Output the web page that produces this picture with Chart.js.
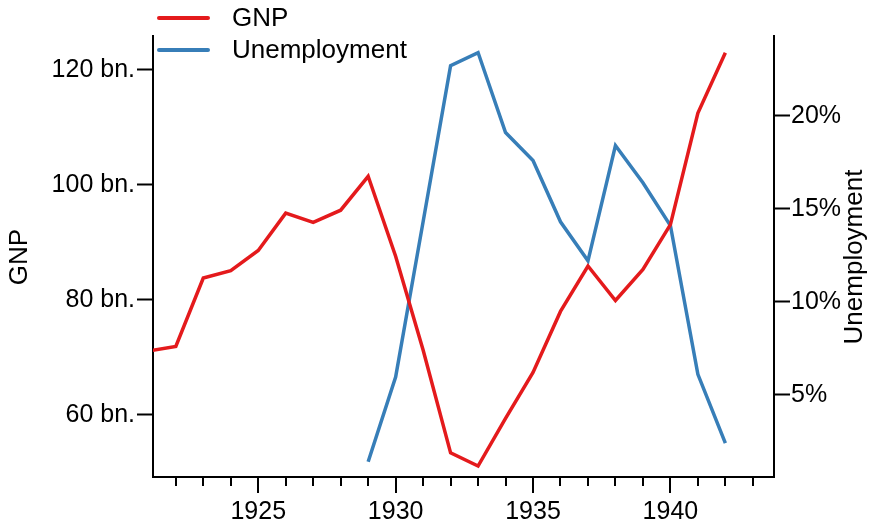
<!DOCTYPE html>
<html>
<head>
<meta charset="utf-8">
<script src="https://cdn.jsdelivr.net/npm/chart.js@4.4.1/dist/chart.umd.min.js"></script>
<style>
  body { margin: 0; background: #fff; }
  #wrap { width: 872px; height: 521px; position: relative; }
</style>
</head>
<body>
<div id="wrap"><canvas id="grafico"></canvas></div>
<script>
// valores
const years = [1921, 1922, 1923, 1924, 1925, 1926, 1927, 1928, 1929, 1930, 1931,
               1932, 1933, 1934, 1935, 1936, 1937, 1938, 1939, 1940, 1941, 1942];
const gnp = [71.1, 71.9, 83.8, 85.1, 88.6, 95.1, 93.5, 95.6, 101.5, 87.6, 71.3,
             53.4, 51.1, 59.4, 67.4, 78.0, 85.9, 79.9, 85.3, 93.1, 112.5, 123.0];
const unemployment = [null, null, null, null, null, null, null, null, 1.4, 5.95, 14.3,
                      22.7, 23.4, 19.1, 17.6, 14.3, 12.2, 18.4, 16.4, 14.1, 6.1, 2.4];
const yearTicks = [1922, 1923, 1924, 1925, 1926, 1927, 1928, 1929, 1930, 1931, 1932,
                   1933, 1934, 1935, 1936, 1937, 1938, 1939, 1940, 1941, 1942, 1943];
const gnpTicks = [60, 80, 100, 120];
const unempTicks = [5, 10, 15, 20];

const FONT = 'Liberation Sans, Arial, Helvetica, sans-serif';
const RED = '#E41A1C';
const BLUE = '#377EB8';

// ticks del eje x (mayores cada 5 años), titulos y leyenda
const extras = {
    id: 'extras',
    afterDraw(chart) {
        const c = chart.ctx;
        const x = chart.scales.x;
        const area = chart.chartArea;
        c.save();
        c.strokeStyle = '#000';
        c.lineWidth = 2;
        x.ticks.forEach(t => {
            const px = Math.round(x.getPixelForValue(t.value));
            const len = t.value % 5 === 0 ? 16 : 9;
            c.beginPath();
            c.moveTo(px, area.bottom);
            c.lineTo(px, area.bottom + len);
            c.stroke();
        });
        c.fillStyle = '#000';
        c.font = '26px ' + FONT;
        c.textAlign = 'center';
        c.textBaseline = 'middle';
        c.save();
        c.translate(20, 257);
        c.rotate(-Math.PI / 2);
        c.fillText('GNP', 0, 0);
        c.restore();
        c.save();
        c.translate(855, 257);
        c.rotate(-Math.PI / 2);
        c.fillText('Unemployment', 0, 0);
        c.restore();
        // leyenda
        c.textAlign = 'left';
        chart.data.datasets.forEach((ds, i) => {
            const y = 18 + i * 32;
            c.strokeStyle = ds.borderColor;
            c.lineWidth = 4;
            c.lineCap = 'round';
            c.beginPath();
            c.moveTo(159, y);
            c.lineTo(208, y);
            c.stroke();
            c.fillText(ds.label, 232, y + 1);
        });
        c.restore();
    }
};

const ctx = document.getElementById('grafico').getContext('2d');
new Chart(ctx, {
    type: 'line',
    data: {
        datasets: [
            {
                label: 'GNP',
                data: years.map((y, i) => ({x: y, y: gnp[i]})),
                borderColor: RED,
                borderWidth: 3.5,
                pointRadius: 0,
                tension: 0,
                yAxisID: 'yGnp'
            },
            {
                label: 'Unemployment',
                data: years.map((y, i) => ({x: y, y: unemployment[i]})),
                borderColor: BLUE,
                borderWidth: 3.5,
                pointRadius: 0,
                tension: 0,
                yAxisID: 'yUnemp'
            }
        ]
    },
    options: {
        responsive: true,
        maintainAspectRatio: false,
        animation: false,
        layout: { padding: { top: 36, left: 0, right: 0, bottom: 0 } },
        plugins: {
            legend: { display: false },
            tooltip: { enabled: false }
        },
        scales: {
            x: {
                type: 'linear',
                min: 1921.17,
                max: 1943.77,
                afterBuildTicks: s => { s.ticks = yearTicks.map(v => ({value: v})); },
                afterFit: s => { s.height = 44; },
                grid: { drawOnChartArea: false, drawTicks: false },
                border: { color: '#000', width: 2 },
                ticks: {
                    autoSkip: false,
                    maxRotation: 0,
                    padding: 20,
                    color: '#000',
                    font: { family: FONT, size: 25 },
                    callback: v => (v % 5 === 0 ? String(v) : '')
                }
            },
            yGnp: {
                position: 'left',
                min: 49.2,
                max: 125.9,
                afterBuildTicks: s => { s.ticks = gnpTicks.map(v => ({value: v})); },
                afterFit: s => { s.width = 153; },
                grid: { drawOnChartArea: false, tickLength: 16, tickColor: '#000', tickWidth: 2 },
                border: { color: '#000', width: 2 },
                ticks: {
                    padding: 2,
                    color: '#000',
                    font: { family: FONT, size: 25 },
                    callback: v => v + ' bn.'
                }
            },
            yUnemp: {
                position: 'right',
                min: 0.58,
                max: 24.29,
                afterBuildTicks: s => { s.ticks = unempTicks.map(v => ({value: v})); },
                afterFit: s => { s.width = 98; },
                grid: { drawOnChartArea: false, tickLength: 16, tickColor: '#000', tickWidth: 2 },
                border: { color: '#000', width: 2 },
                ticks: {
                    padding: 1,
                    color: '#000',
                    font: { family: FONT, size: 25 },
                    callback: v => v + '%'
                }
            }
        }
    },
    plugins: [extras]
});
</script>
</body>
</html>
